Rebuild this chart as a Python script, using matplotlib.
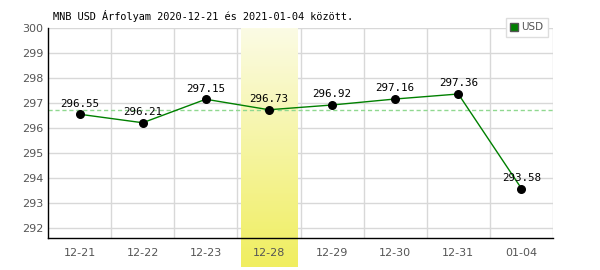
import numpy as np
import matplotlib
matplotlib.use('Agg')
import matplotlib.pyplot as plt
from matplotlib.colors import LinearSegmentedColormap

# Adatok
dates = ['12-21', '12-22', '12-23', '12-28', '12-29', '12-30', '12-31', '01-04']
rates = [296.55, 296.21, 297.15, 296.73, 296.92, 297.16, 297.36, 293.58]
highlight = '12-28'
ref_value = 296.73
title = 'MNB USD Árfolyam 2020-12-21 és 2021-01-04 között.'

fig = plt.figure(figsize=(6, 2.7), dpi=100)
ax = fig.add_axes([48 / 600, 1 - 238 / 270, 505 / 600, 210 / 270])

x = np.arange(len(dates))
ymin, ymax = 291.6, 300

# rács
for yv in range(292, 301):
    ax.axhline(yv, color='#d8d8d8', lw=1, zorder=1)
for xv in np.arange(0.5, len(dates), 1):
    ax.axvline(xv, color='#d8d8d8', lw=1, zorder=1)

# kiemelt oszlop színátmenettel
hi = dates.index(highlight)
cmap = LinearSegmentedColormap.from_list('hl', ['#fbfbe4', '#f0ee60'])
grad = np.linspace(0, 1, 100).reshape(-1, 1)
ax.imshow(grad, cmap=cmap, aspect='auto', origin='upper',
          extent=[hi - 0.44, hi + 0.46, ymin - 1.15, ymax],
          clip_on=False, zorder=1.5)
ax.set_xlim(-0.5, len(dates) - 0.5)
ax.set_ylim(ymin, ymax)

ax.axhline(ref_value, color='#90d890', lw=1, ls=(0, (3, 2)), zorder=2)

ax.plot(x, rates, color='#008000', lw=1, zorder=3)
ax.scatter(x, rates, s=30, color='black', zorder=4)
for xi, v in zip(x, rates):
    ax.annotate(f'{v:.2f}', (xi, v), xytext=(0, 4), textcoords='offset points',
                ha='center', va='bottom', fontsize=7.8, family='DejaVu Sans Mono',
                zorder=5)

ax.set_xticks(x)
ax.set_xticklabels(dates)
ax.set_yticks(range(292, 301))
ax.tick_params(axis='both', length=0, colors='#555555', labelsize=8)
ax.tick_params(axis='x', pad=7)
for s in ['top', 'right']:
    ax.spines[s].set_visible(False)
for s in ['left', 'bottom']:
    ax.spines[s].set_color('black')
    ax.spines[s].set_linewidth(1)
    ax.spines[s].set_zorder(6)

fig.text(53 / 600, 1 - 16 / 270, title, fontsize=7.4, family='DejaVu Sans Mono',
         va='center', ha='left')

# jelmagyarázat
leg = ax.legend([plt.Rectangle((0, 0), 1, 1, facecolor='#008000', edgecolor='#555555')],
                ['USD'], loc='upper right', bbox_to_anchor=(553 / 600, 1 - 13 / 270),
                bbox_transform=fig.transFigure, fontsize=7.5, handlelength=0.8,
                handleheight=0.8, handletextpad=0.3, borderpad=0.4, fancybox=False,
                framealpha=1, edgecolor='#dddddd')
for t in leg.get_texts():
    t.set_color('#555555')

fig.savefig('out.png', dpi=100)
